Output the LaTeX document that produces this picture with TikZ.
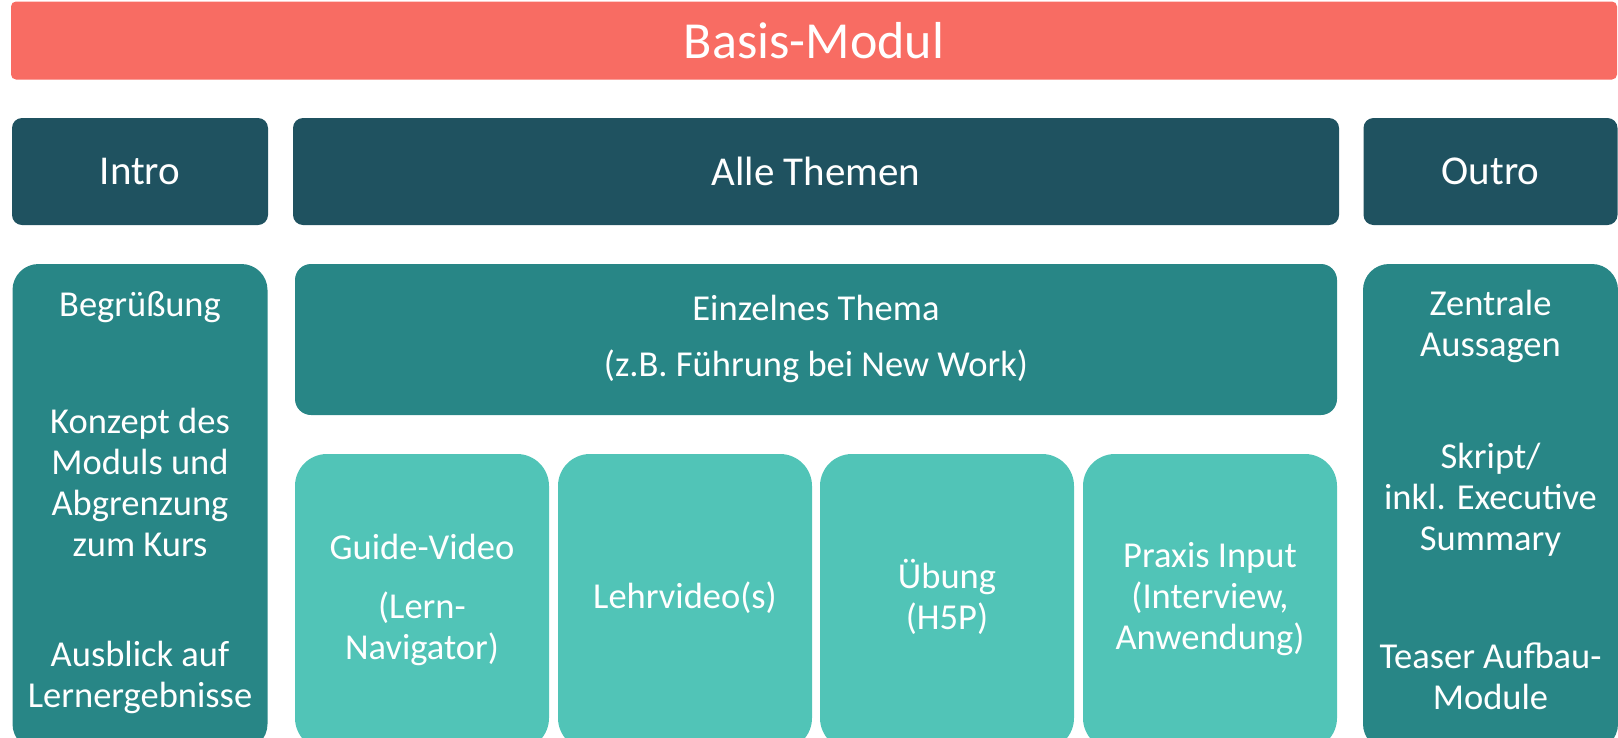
\documentclass[tikz,border=0pt]{standalone}
\usepackage{fontspec}
\setmainfont{Carlito}
\definecolor{salmon}{HTML}{F86C63}
\definecolor{hdrcol}{HTML}{1F5260}
\definecolor{tealdark}{HTML}{288686}
\definecolor{teallight}{HTML}{51C4B7}
\newcommand{\titlefont}{\fontsize{52}{58}\selectfont}
\newcommand{\hdrfont}{\fontsize{41}{46}\selectfont}
\newcommand{\bodyfont}{\fontsize{36.5}{41}\selectfont}
\tikzset{
  topbar/.style={rectangle, fill=salmon, rounded corners=5pt, inner sep=0pt, text=white, font=\titlefont},
  hdr/.style={rectangle, fill=hdrcol, rounded corners=10pt, inner sep=0pt, minimum height=107pt, text=white, font=\hdrfont},
  side/.style={rectangle, fill=tealdark, rounded corners=26pt, inner sep=0pt, minimum width=255pt, minimum height=486pt},
  topic/.style={rectangle, fill=tealdark, rounded corners=16pt, inner sep=0pt},
  sub/.style={rectangle, fill=teallight, rounded corners=32pt, inner sep=0pt, minimum width=254pt, minimum height=296pt},
  txt/.style={text=white, align=center, font=\bodyfont, inner sep=0pt},
}
\begin{document}
\begin{tikzpicture}[x=1pt,y=-1pt]
\useasboundingbox (0,0) rectangle (1618,737);
\clip (0,0) rectangle (1618,737);
% title bar
\node[topbar, minimum width=1606pt, minimum height=78pt] (basis) at (814,40.5) {Basis-Modul};
% headers
\node[hdr, minimum width=256pt] (intro) at (140,171.5) {Intro};
\node[hdr, minimum width=1046pt] (alle) at (816,171.5) {Alle Themen};
\node[hdr, minimum width=254pt] (outro) at (1490.5,171.5) {Outro};
% side columns
\node[side] (introbox) at (140,507) {};
\node[side] (outrobox) at (1490.5,507) {};
% topic
\node[topic, minimum width=1042pt, minimum height=151pt] (thema) at (816,339.5) {};
\node[txt] (themaA) at (816,308) {Einzelnes Thema};
\node[txt] (themaB) at (816,366) {(z.B. Führung bei New Work)};
% sub boxes
\node[sub] (guide) at (422,602) {};
\node[sub] (lehr) at (685,602) {};
\node[sub] (uebung) at (947,602) {};
\node[sub] (praxis) at (1210,602) {};
\node[txt] (guideA) at (422,547) {Guide-Video};
\node[txt] (guideB) at (422,629) {(Lern-\\Navigator)};
\node[txt] (lehrT) at (685,598) {Lehrvideo(s)};
\node[txt] (uebT) at (947,597) {Übung\\(H5P)};
\node[txt] (praxT) at (1210,599) {Praxis Input\\(Interview,\\Anwendung)};
% intro texts
\node[txt] (begr) at (140,307) {Begrüßung};
\node[txt] (konz) at (140,482) {Konzept des\\Moduls und\\Abgrenzung\\zum Kurs};
\node[txt] (ausb) at (140,677) {Ausblick auf\\Lernergebnisse};
% outro texts
\node[txt] (zent) at (1490.5,326) {Zentrale\\Aussagen};
\node[txt] (skript) at (1490.5,500) {Skript/\\inkl. Executive\\Summary};
\node[txt] (teaser) at (1490.5,676) {Teaser Aufbau-\\Module};
\end{tikzpicture}
\end{document}
